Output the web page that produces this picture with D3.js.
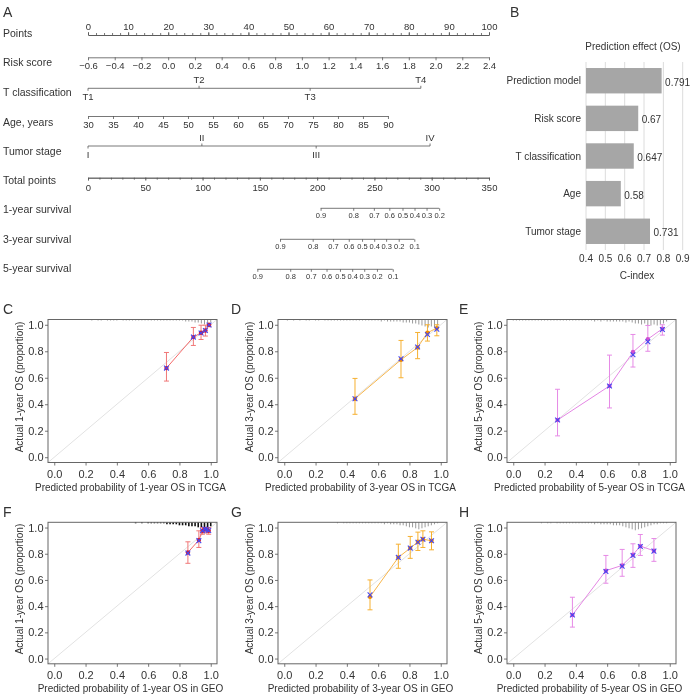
<!DOCTYPE html>
<html><head><meta charset="utf-8">
<script src="https://cdn.jsdelivr.net/npm/d3@7/dist/d3.min.js"></script>
<style>
body{margin:0;background:#fff}
svg{will-change:transform}
text{font-family:"Liberation Sans",Arial,Helvetica,sans-serif;fill:#333}
</style>
</head><body>
<svg id="chart" width="691" height="697"></svg>
<script>
// ---------------- DATA ----------------
// Nomogram (panel A)
const rowLabels = ["Points","Risk score","T classification","Age, years","Tumor stage","Total points","1-year survival","3-year survival","5-year survival"];
const pointsTicks = [0,10,20,30,40,50,60,70,80,90,100];
const riskTicks = [-0.6,-0.4,-0.2,0.0,0.2,0.4,0.6,0.8,1.0,1.2,1.4,1.6,1.8,2.0,2.2,2.4];
const riskRange = [-0.6, 2.4];
const tLevels = ["T1","T2","T3","T4"];
const tPoints = [0, 27.7, 55.4, 83.0];
const tAbove = [false, true, false, true];
const ageTicks = [30,35,40,45,50,55,60,65,70,75,80,85,90];
const ageRange = [30, 90];
const ageMaxPoints = 74.8;
const stageLevels = ["I","II","III","IV"];
const stagePoints = [0, 28.4, 56.9, 85.3];
const stageAbove = [false, true, false, true];
const totalTicks = [0,50,100,150,200,250,300,350];
const surv1Labels = ["0.9","0.8","0.7","0.6","0.5","0.4","0.3","0.2"];
const surv1Total = [203, 231.5, 249.5, 263, 274.5, 285, 295.5, 306.5];
const surv3Labels = ["0.9","0.8","0.7","0.6","0.5","0.4","0.3","0.2","0.1"];
const surv3Total = [167.6, 196.1, 213.9, 227.6, 239.2, 249.8, 260.2, 271.2, 284.8];
const surv5Labels = ["0.9","0.8","0.7","0.6","0.5","0.4","0.3","0.2","0.1"];
const surv5Total = [147.8, 176.5, 194.5, 208.2, 219.9, 230.6, 241.1, 252.2, 266.0];

// Panel B
const cCategories = ["Prediction model","Risk score","T classification","Age","Tumor stage"];
const cValues = [0.791, 0.67, 0.647, 0.58, 0.731];
const cTicks = [0.4,0.5,0.6,0.7,0.8,0.9];

// Calibration panels
const calTicks = [0,0.2,0.4,0.6,0.8,1.0];
const predC = [0.717,0.889,0.938,0.966,0.989];
const obsC  = [0.673,0.907,0.940,0.957,1.000];
const corrC = [0.673,0.907,0.938,0.957,0.998];
const loC   = [0.575,0.844,0.889,0.915,0.985];
const hiC   = [0.791,0.980,0.997,0.997,1.000];

const predD = [0.452,0.746,0.852,0.915,0.975];
const obsD  = [0.442,0.736,0.829,0.940,0.975];
const corrD = [0.442,0.744,0.832,0.927,0.967];
const loD   = [0.324,0.600,0.744,0.877,0.917];
const hiD   = [0.595,0.882,0.942,1.000,1.000];

const predE = [0.283,0.615,0.765,0.860,0.953];
const obsE  = [0.281,0.538,0.794,0.892,0.970];
const corrE = [0.281,0.538,0.774,0.872,0.965];
const loE   = [0.161,0.372,0.681,0.800,0.922];
const hiE   = [0.513,0.771,0.927,0.995,1.000];

const predF = [0.854,0.924,0.947,0.962,0.975,0.987];
const obsF  = [0.810,0.904,0.975,0.990,0.985,0.975];
const corrF = [0.805,0.900,0.975,0.988,0.985,0.977];
const loF   = [0.727,0.848,0.949,0.960,0.960,0.949];
const hiF   = [0.891,0.975,1.000,1.000,1.000,1.000];

const predG = [0.548,0.729,0.805,0.854,0.886,0.941];
const obsG  = [0.471,0.772,0.843,0.891,0.911,0.899];
const corrG = [0.486,0.772,0.843,0.888,0.911,0.899];
const loG   = [0.372,0.689,0.765,0.825,0.848,0.830];
const hiG   = [0.600,0.873,0.932,0.965,0.975,0.967];

const predH = [0.378,0.592,0.696,0.765,0.812,0.899];
const obsH  = [0.332,0.671,0.711,0.792,0.858,0.823];
const corrH = [0.332,0.665,0.705,0.787,0.855,0.820];
const loH   = [0.240,0.575,0.628,0.696,0.787,0.742];
const hiH   = [0.468,0.787,0.833,0.876,0.947,0.916];

// spike histograms of predicted risk (bins 0.00 .. 1.00)
const spikeBins = [0.00,0.02,0.04,0.06,0.08,0.10,0.12,0.14,0.16,0.18,0.20,0.22,0.24,0.26,0.28,0.30,0.32,0.34,0.36,0.38,0.40,0.42,0.44,0.46,0.48,0.50,0.52,0.54,0.56,0.58,0.60,0.62,0.64,0.66,0.68,0.70,0.72,0.74,0.76,0.78,0.80,0.82,0.84,0.86,0.88,0.90,0.92,0.94,0.96,0.98,1.00];
const spikeC = [0,0,0,0,0,0,0,0,0,0,0,0,1,0,1,1,0,1,1,1,1,0,1,1,1,1,1,1,1,1,1,1,1,1,1,1,1,1,1,1,1,1,2,2,2,3,3,4,5,6,3];
const spikeD = [0,1,0,1,0,1,0,1,1,0,1,1,0,1,1,1,1,1,1,1,1,1,1,1,1,1,1,1,1,1,1,2,1,2,2,2,2,2,3,3,3,4,4,5,6,7,8,7,8,6,0];
const spikeE = [1,1,1,1,1,1,1,1,1,1,1,1,1,1,1,1,1,1,1,1,1,1,1,1,1,1,2,1,2,1,2,2,2,2,2,2,3,2,3,4,4,5,4,6,6,5,6,5,4,2,0];
const spikeF = [0,0,0,0,0,0,0,0,0,0,0,0,0,0,0,0,0,0,0,0,0,0,0,0,0,0,1,0,1,0,1,1,1,1,1,1,2,2,2,2,3,3,3,4,4,4,5,5,6,6,4];
const spikeG = [0,0,0,0,0,0,0,0,0,0,0,0,0,0,0,0,0,1,0,1,1,1,1,1,1,1,1,1,1,1,1,1,2,1,2,2,2,3,3,4,5,5,6,7,6,5,4,3,2,1,0];
const spikeH = [0,0,0,0,0,0,0,0,0,1,0,1,1,0,1,1,1,1,1,1,1,1,1,1,1,1,2,1,2,2,2,2,3,3,3,4,5,6,7,8,7,6,5,4,3,2,2,1,1,1,0];

// ---------------- DRAW ----------------
const svg = d3.select("#chart");
const INK = "#333", AXC = "#555";

function letter(x, y, t){
  svg.append("text").attr("x",x).attr("y",y).attr("font-size",14).text(t);
}
function styleAxis(g, fs){
  g.selectAll("path.domain").attr("stroke",AXC).attr("stroke-width",0.8);
  g.selectAll(".tick line").attr("stroke",AXC).attr("stroke-width",0.8);
  g.selectAll(".tick text").attr("fill",INK).attr("font-size",fs)
    .attr("font-family",'"Liberation Sans",Arial,sans-serif');
}

// ---- Panel A: nomogram
letter(3, 17, "A");
const rowBase = [37,66,96,126,155,184,213,243,272];
svg.append("g").selectAll("text").data(rowLabels).join("text")
  .attr("x",3).attr("y",(d,i)=>rowBase[i]).attr("font-size",10.5).text(d=>d);

const pts = d3.scaleLinear([0,100],[88,489]);

// Points axis
{
  const minor = d3.range(0,101,2);
  const gm = svg.append("g").attr("transform","translate(0,35)")
    .call(d3.axisTop(pts).tickValues(minor).tickSize(2).tickSizeOuter(0).tickFormat(""));
  styleAxis(gm,9);
  const g = svg.append("g").attr("transform","translate(0,35)")
    .call(d3.axisTop(pts).tickValues(pointsTicks).tickSize(3).tickSizeOuter(0).tickPadding(2.5));
  styleAxis(g,9.5);
}
// Risk score
{
  const rs = d3.scaleLinear(riskRange,[pts(0),pts(100)]);
  const g = svg.append("g").attr("transform","translate(0,57.3)")
    .call(d3.axisBottom(rs).tickValues(riskTicks).tickSize(3).tickSizeOuter(0).tickPadding(2).tickFormat(d3.format(".1f")));
  styleAxis(g,9.5);
}
// categorical rows
function catRow(y, levels, points, above){
  const g = svg.append("g");
  g.append("line").attr("x1",pts(d3.min(points))).attr("x2",pts(d3.max(points)))
    .attr("y1",y).attr("y2",y).attr("stroke",AXC).attr("stroke-width",0.8);
  levels.forEach((l,i)=>{
    const x = pts(points[i]);
    g.append("line").attr("x1",x).attr("x2",x).attr("y1",y).attr("y2",above[i]?y-2.5:y+2.5)
      .attr("stroke",AXC).attr("stroke-width",0.8);
    g.append("text").attr("x",x).attr("y",above[i]?y-5:y+12).attr("text-anchor","middle")
      .attr("font-size",9.5).text(l);
  });
}
catRow(88.3, tLevels, tPoints, tAbove);
// Age
{
  const as = d3.scaleLinear(ageRange,[pts(0),pts(ageMaxPoints)]);
  const g = svg.append("g").attr("transform","translate(0,116)")
    .call(d3.axisBottom(as).tickValues(ageTicks).tickSize(3).tickSizeOuter(0).tickPadding(2));
  styleAxis(g,9.5);
}
catRow(146, stageLevels, stagePoints, stageAbove);
// Total points
const tot = d3.scaleLinear([0,350],[88,489]);
{
  const gm = svg.append("g").attr("transform","translate(0,177.7)")
    .call(d3.axisBottom(tot).tickValues(d3.range(0,351,10)).tickSize(2).tickSizeOuter(0).tickFormat(""));
  styleAxis(gm,9);
  const g = svg.append("g").attr("transform","translate(0,177.7)")
    .call(d3.axisBottom(tot).tickValues(totalTicks).tickSize(3).tickSizeOuter(0).tickPadding(3.5));
  styleAxis(g,9.5);
}
function survRow(y, labels, totals){
  const g = svg.append("g").attr("transform",`translate(0,${y})`)
    .call(d3.axisBottom(tot).tickValues(totals).tickSize(2.5).tickSizeOuter(0).tickPadding(2)
      .tickFormat((d,i)=>labels[i]));
  g.select("path.domain").attr("d",`M${tot(d3.min(totals))},0H${tot(d3.max(totals))}`);
  styleAxis(g,7.5);
}
survRow(208.3, surv1Labels, surv1Total);
survRow(239.3, surv3Labels, surv3Total);
survRow(269.3, surv5Labels, surv5Total);

// ---- Panel B
letter(510, 17, "B");
{
  const bx = d3.scaleLinear([0.4,0.9],[586,682.7]);
  const by = d3.scaleBand(cCategories,[62,250]).paddingInner(0.325).paddingOuter(0.16);
  const g = svg.append("g");
  g.append("text").attr("x",633).attr("y",50).attr("text-anchor","middle").attr("font-size",10).text("Prediction effect (OS)");
  g.selectAll("line.grid").data(cTicks).join("line").attr("class","grid")
    .attr("x1",d=>bx(d)).attr("x2",d=>bx(d)).attr("y1",62).attr("y2",250)
    .attr("stroke","#dcdcdc").attr("stroke-width",1);
  g.selectAll("rect").data(cValues).join("rect")
    .attr("x",bx(0.4)).attr("y",(d,i)=>by(cCategories[i]))
    .attr("width",d=>bx(d)-bx(0.4)).attr("height",by.bandwidth()).attr("fill","#a6a6a6");
  g.selectAll("text.cat").data(cCategories).join("text").attr("class","cat")
    .attr("x",581).attr("y",d=>by(d)+by.bandwidth()/2+3.5).attr("text-anchor","end")
    .attr("font-size",10).text(d=>d);
  g.selectAll("text.val").data(cValues).join("text").attr("class","val")
    .attr("x",d=>bx(d)+3.5).attr("y",(d,i)=>by(cCategories[i])+by.bandwidth()/2+5)
    .attr("font-size",10).text(d=>String(d));
  g.selectAll("text.tk").data(cTicks).join("text").attr("class","tk")
    .attr("x",d=>bx(d)).attr("y",261.5).attr("text-anchor","middle").attr("font-size",10)
    .text(d=>d3.format(".1f")(d));
  g.append("text").attr("x",637).attr("y",279).attr("text-anchor","middle").attr("font-size",10).text("C-index");
}

// ---- Calibration panels
const RED = {line:"#f46a6a", err:"#f07878", dot:"#d8192a"};
const ORA = {line:"#f7b54a", err:"#f6b030", dot:"#f08a00"};
const VIO = {line:"#e486e4", err:"#e68ae6", dot:"#d050d0"};
const colLeft = [48, 278, 507];
const rowTop = [319.5, 522.3];
const rowH = [143, 141.5];
const frameW = 169;
const letterX = [3, 231, 459];
const letterY = [313.5, 517];

const calPanels = [
  {L:"C",c:0,r:0,pred:predC,obs:obsC,corr:corrC,lo:loC,hi:hiC,sp:spikeC,spc:"#9a9a9a",col:RED,n:"1",src:"TCGA"},
  {L:"D",c:1,r:0,pred:predD,obs:obsD,corr:corrD,lo:loD,hi:hiD,sp:spikeD,spc:"#9a9a9a",col:ORA,n:"3",src:"TCGA"},
  {L:"E",c:2,r:0,pred:predE,obs:obsE,corr:corrE,lo:loE,hi:hiE,sp:spikeE,spc:"#9a9a9a",col:VIO,n:"5",src:"TCGA"},
  {L:"F",c:0,r:1,pred:predF,obs:obsF,corr:corrF,lo:loF,hi:hiF,sp:spikeF,spc:"#111111",col:RED,n:"1",src:"GEO"},
  {L:"G",c:1,r:1,pred:predG,obs:obsG,corr:corrG,lo:loG,hi:hiG,sp:spikeG,spc:"#9a9a9a",col:ORA,n:"3",src:"GEO"},
  {L:"H",c:2,r:1,pred:predH,obs:obsH,corr:corrH,lo:loH,hi:hiH,sp:spikeH,spc:"#9a9a9a",col:VIO,n:"5",src:"GEO"}
];

calPanels.forEach(p=>{
  const left = colLeft[p.c], top = rowTop[p.r], H = rowH[p.r];
  const x = d3.scaleLinear([-0.04,1.04],[left,left+frameW]);
  const y = d3.scaleLinear([-0.04,1.04],[top+H,top]);
  const g = svg.append("g");
  letter(letterX[p.c], letterY[p.r], p.L);
  // diagonal
  g.append("line").attr("x1",x(-0.04)).attr("y1",y(-0.04)).attr("x2",x(1.04)).attr("y2",y(1.04))
    .attr("stroke","#e2e2e2").attr("stroke-width",1);
  // spikes
  const sh = d3.scaleLinear([0,8],[0,8]);
  g.selectAll("line.sp").data(spikeBins.map((b,i)=>[b,p.sp[i]]).filter(d=>d[1]>0)).join("line")
    .attr("class","sp").attr("x1",d=>x(d[0])).attr("x2",d=>x(d[0]))
    .attr("y1",top).attr("y2",d=>top+sh(d[1]))
    .attr("stroke",p.spc).attr("stroke-width",p.L==="F"?1.6:1);
  // connecting line
  const pts2 = p.pred.map((v,i)=>[v,p.obs[i]]);
  g.append("path").attr("d",d3.line().x(d=>x(d[0])).y(d=>y(d[1]))(pts2))
    .attr("fill","none").attr("stroke",p.col.line).attr("stroke-width",1);
  // error bars
  p.pred.forEach((v,i)=>{
    const xx = x(v);
    g.append("line").attr("x1",xx).attr("x2",xx).attr("y1",y(p.lo[i])).attr("y2",y(p.hi[i]))
      .attr("stroke",p.col.err).attr("stroke-width",1);
    [p.lo[i],p.hi[i]].forEach(e=>{
      g.append("line").attr("x1",xx-2.5).attr("x2",xx+2.5).attr("y1",y(e)).attr("y2",y(e))
        .attr("stroke",p.col.err).attr("stroke-width",1);
    });
  });
  // observed dots
  g.selectAll("circle").data(pts2).join("circle")
    .attr("cx",d=>x(d[0])).attr("cy",d=>y(d[1])).attr("r",2.2).attr("fill",p.col.dot);
  // bias-corrected x marks
  p.pred.forEach((v,i)=>{
    const cx = x(v), cy = y(p.corr[i]), s = 2.4;
    g.append("path").attr("d",`M${cx-s},${cy-s}L${cx+s},${cy+s}M${cx-s},${cy+s}L${cx+s},${cy-s}`)
      .attr("stroke","#4646f0").attr("stroke-width",1.1).attr("fill","none");
  });
  // frame
  g.append("rect").attr("x",left).attr("y",top).attr("width",frameW).attr("height",H)
    .attr("fill","none").attr("stroke","#666").attr("stroke-width",1);
  // axes
  const gx = svg.append("g").attr("transform",`translate(0,${top+H})`)
    .call(d3.axisBottom(x).tickValues(calTicks).tickSize(3).tickPadding(4.5).tickFormat(d3.format(".1f")));
  gx.select("path.domain").remove();
  styleAxis(gx,11);
  const gy = svg.append("g").attr("transform",`translate(${left},0)`)
    .call(d3.axisLeft(y).tickValues(calTicks).tickSize(3).tickPadding(1.5).tickFormat(d3.format(".1f")));
  gy.select("path.domain").remove();
  styleAxis(gy,11);
  // titles
  svg.append("text").attr("x",left+frameW/2-2).attr("y",top+H+28.5).attr("text-anchor","middle")
    .attr("font-size",10).text(`Predicted probability of ${p.n}-year OS in ${p.src}`);
  svg.append("text").attr("transform",`translate(${left-25.5},${top+H/2-4}) rotate(-90)`)
    .attr("text-anchor","middle").attr("font-size",10).text(`Actual ${p.n}-year OS (proportion)`);
});
</script>
</body></html>
